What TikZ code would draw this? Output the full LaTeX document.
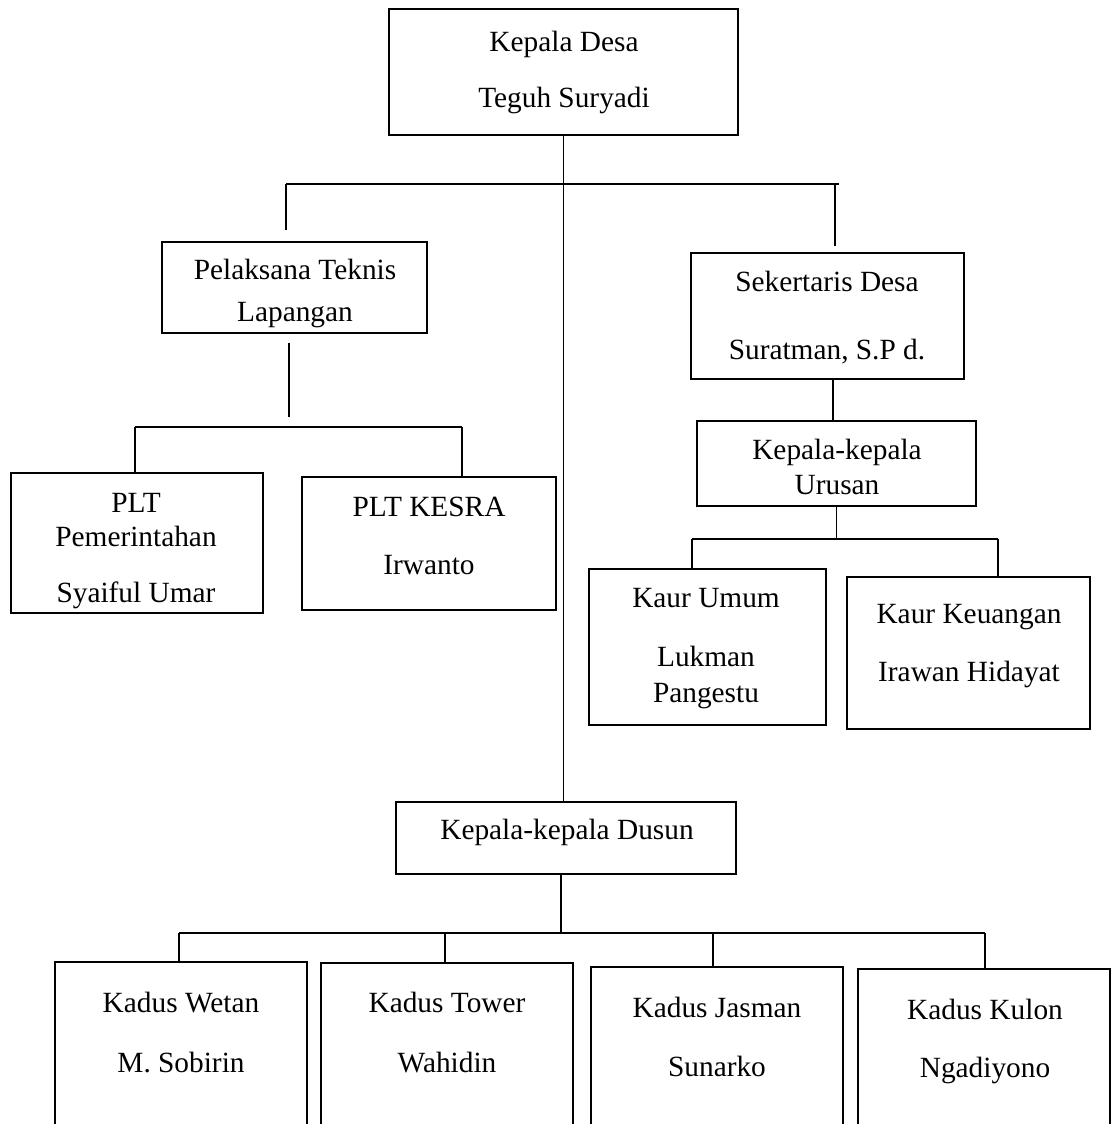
\documentclass[tikz,border=0pt]{standalone}
\usepackage{fontspec}
\setmainfont{Liberation Serif}
\usetikzlibrary{fit}

\begin{document}
\begin{tikzpicture}[
  x=0.02cm, y=-0.02cm,
  kotak/.style={draw, line width=1.4pt, inner sep=0pt},
  teks/.style={font=\fontsize{16.7}{20}\selectfont, inner sep=0pt, text height=0.68em, text depth=0.2em, yshift=-0.1cm},
  ln/.style={line width=0.6pt}
]
\useasboundingbox (0,0) rectangle (1114,1124);
\clip (0,0) rectangle (1114,1124);

% Kepala Desa
\node[kotak, fit={(389,9) (738,135)}] (kades) {};
\node[teks] (kades-a) at (564,42) {Kepala Desa};
\node[teks] (kades-b) at (564,98) {Teguh Suryadi};

% Pelaksana teknis
\node[kotak, fit={(162,242) (427,333)}] (pelaks) {};
\node[teks] (pelaks-a) at (295,270) {Pelaksana Teknis};
\node[teks] (pelaks-b) at (295,312) {Lapangan};

\node[kotak, fit={(11,473) (263,613)}] (pltpem) {};
\node[teks] (pltpem-a) at (136,503) {PLT};
\node[teks] (pltpem-b) at (136,537) {Pemerintahan};
\node[teks] (pltpem-c) at (136,593) {Syaiful Umar};

\node[kotak, fit={(302,477) (556,610)}] (kesra) {};
\node[teks] (kesra-a) at (429,507) {PLT KESRA};
\node[teks] (kesra-b) at (429,565) {Irwanto};

% Sekertaris dan urusan
\node[kotak, fit={(691,253) (964,379)}] (sekdes) {};
\node[teks] (sekdes-a) at (827,282) {Sekertaris Desa};
\node[teks] (sekdes-b) at (827,350) {Suratman, S.P d.};

\node[kotak, fit={(697,421) (976,506)}] (urusan) {};
\node[teks] (urusan-a) at (837,450) {Kepala-kepala};
\node[teks] (urusan-b) at (837,485) {Urusan};

\node[kotak, fit={(589,569) (826,725)}] (kaurum) {};
\node[teks] (kaurum-a) at (706,598) {Kaur Umum};
\node[teks] (kaurum-b) at (706,657) {Lukman};
\node[teks] (kaurum-c) at (706,693) {Pangestu};

\node[kotak, fit={(847,577) (1090,729)}] (kaurku) {};
\node[teks] (kaurku-a) at (969,614) {Kaur Keuangan};
\node[teks] (kaurku-b) at (969,672) {Irawan Hidayat};

% Dusun
\node[kotak, fit={(396,802) (736,874)}] (dusun) {};
\node[teks] (dusun-a) at (567,830) {Kepala-kepala Dusun};

\node[kotak, fit={(55,962) (307,1160)}] (wetan) {};
\node[teks] (wetan-a) at (181,1003) {Kadus Wetan};
\node[teks] (wetan-b) at (181,1063) {M. Sobirin};

\node[kotak, fit={(321,963) (573,1160)}] (tower) {};
\node[teks] (tower-a) at (447,1003) {Kadus Tower};
\node[teks] (tower-b) at (447,1063) {Wahidin};

\node[kotak, fit={(591,967) (843,1160)}] (jasman) {};
\node[teks] (jasman-a) at (717,1008) {Kadus Jasman};
\node[teks] (jasman-b) at (717,1067) {Sunarko};

\node[kotak, fit={(858,969) (1110,1160)}] (kulon) {};
\node[teks] (kulon-a) at (985,1010) {Kadus Kulon};
\node[teks] (kulon-b) at (985,1068) {Ngadiyono};

% Garis utama
\draw[ln] (kades.south) -- (kades.south |- dusun.north);

% Cabang atas
\coordinate (b1l) at (286,184);
\coordinate (b1r) at (839,184);
\coordinate (b1s) at (835,184);
\draw[ln] (b1l) -- (b1r);
\draw[ln, shorten >=0.22cm] (b1l) -- (b1l |- pelaks.north);
\draw[ln, shorten >=0.12cm] (b1s) -- (b1s |- sekdes.north);

% Cabang pelaksana
\coordinate (b2l) at (135,427);
\coordinate (b2m) at (289,427);
\coordinate (b2r) at (462,427);
\draw[ln, shorten <=0.18cm, shorten >=0.2cm] (b2m |- pelaks.south) -- (b2m);
\draw[ln] (b2l) -- (b2r);
\draw[ln] (b2l) -- (b2l |- pltpem.north);
\draw[ln] (b2r) -- (b2r |- kesra.north);

% Cabang sekertaris
\coordinate (su) at (833,400);
\draw[ln] (su |- sekdes.south) -- (su |- urusan.north);
\coordinate (b3l) at (692,539);
\coordinate (b3r) at (998,539);
\draw[ln] (urusan.south) -- (urusan.south |- b3l);
\draw[ln] (b3l) -- (b3r);
\draw[ln] (b3l) -- (b3l |- kaurum.north);
\draw[ln] (b3r) -- (b3r |- kaurku.north);

% Cabang dusun
\coordinate (b4l) at (179,933);
\coordinate (b4m) at (561,933);
\coordinate (b4r) at (985,933);
\draw[ln] (b4m |- dusun.south) -- (b4m);
\draw[ln] (b4l) -- (b4r);
\foreach \x/\n in {179/wetan, 445/tower, 713/jasman, 985/kulon} {
  \coordinate (t-\n) at (\x,933);
  \draw[ln] (t-\n) -- (t-\n |- \n.north);
}
\end{tikzpicture}
\end{document}
